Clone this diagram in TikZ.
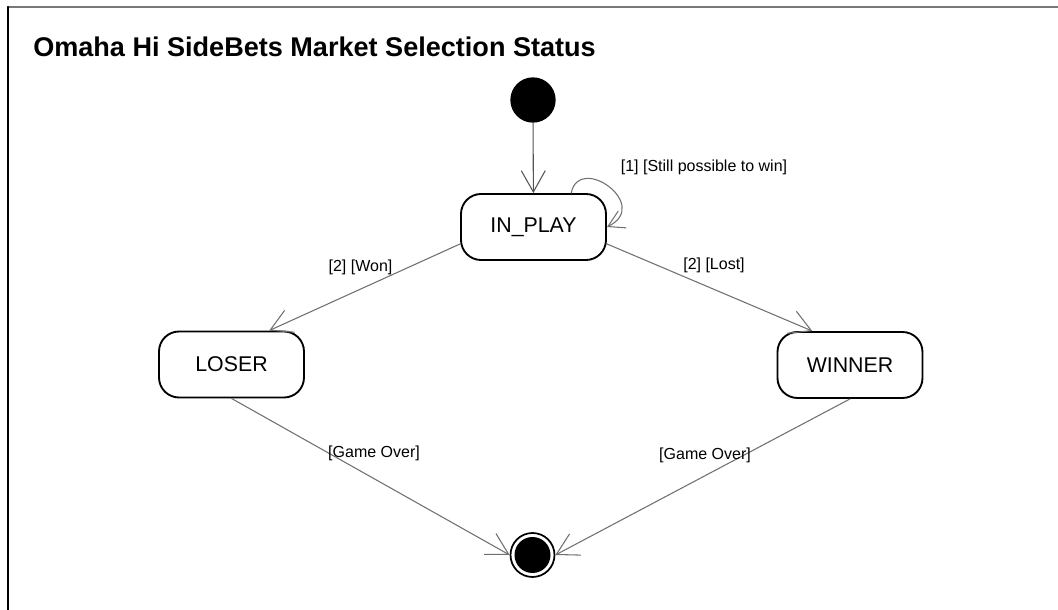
\documentclass[tikz,border=0pt]{standalone}
\usepackage{fontspec}
\setmainfont{Liberation Sans}
\usetikzlibrary{arrows.meta}
\definecolor{linkgray}{RGB}{112,112,112}
\definecolor{framegray}{RGB}{120,120,120}
\begin{document}
\begin{tikzpicture}[x=0.75pt, y=0.75pt, line cap=round, line join=round, font=\fontsize{12}{14}\selectfont]
	\tikzset{statebox/.style={draw, line width=1.4pt, rounded corners=15pt, minimum width=108.75pt, minimum height=49.5pt, inner sep=0pt, font=\fontsize{16}{19}\selectfont},
		initstate/.style={circle, fill=black, minimum size=34pt, inner sep=0pt},
		finalstate/.style={circle, draw, line width=1.3pt, minimum size=33pt, inner sep=0pt, path picture={\fill (path picture bounding box.center) circle (13.5pt);}},
		trans/.style={draw=linkgray, line width=0.8pt, -{Straight Barb[length=16pt, width=18pt]}},
		guard/.style={inner sep=0pt}}
	\useasboundingbox (0,0) rectangle (1058,610);
	\draw[framegray, line width=1.5pt] (8,603) -- (1058,603);
	\draw[line width=1.5pt] (8,0) -- (8,603);
	\node (title) [anchor=base west, inner sep=0pt, font=\bfseries\fontsize{20.3}{24}\selectfont] at (33,553) {Omaha Hi SideBets Market Selection Status};
	% states
	\node (init) [initstate] at (533,510) {};
	\node (inplay) [statebox] at (533.5,383) {IN\_PLAY};
	\node (loser) [statebox] at (231.5,245.5) {LOSER};
	\node (winner) [statebox] at (850,245) {WINNER};
	\node (final) [finalstate] at (532.5,55) {};
	% transitions
	\draw[trans, draw=linkgray!75!black] (init) -- (inplay);
	\draw[trans, -{Straight Barb[length=12pt, width=14pt]}] (inplay.42) .. controls +(8,40) and +(45,22) .. (inplay.east);
	\draw[trans] (inplay.193) -- (loser.42);
	\draw[trans] (inplay.-13) -- (winner.138);
	\draw[trans] (loser.south) -- (final.west);
	\draw[trans] (winner.south) -- (final.east);
	% guards
	\node (gstill) [guard] at (704,443) {[1] [Still possible to win]};
	\node (gwon) [guard] at (360.5,343) {[2] [Won]};
	\node (glost) [guard] at (714,345) {[2] [Lost]};
	\node (goverl) [guard] at (374,157) {[Game Over]};
	\node (goverr) [guard] at (705,155) {[Game Over]};
\end{tikzpicture}
\end{document}
